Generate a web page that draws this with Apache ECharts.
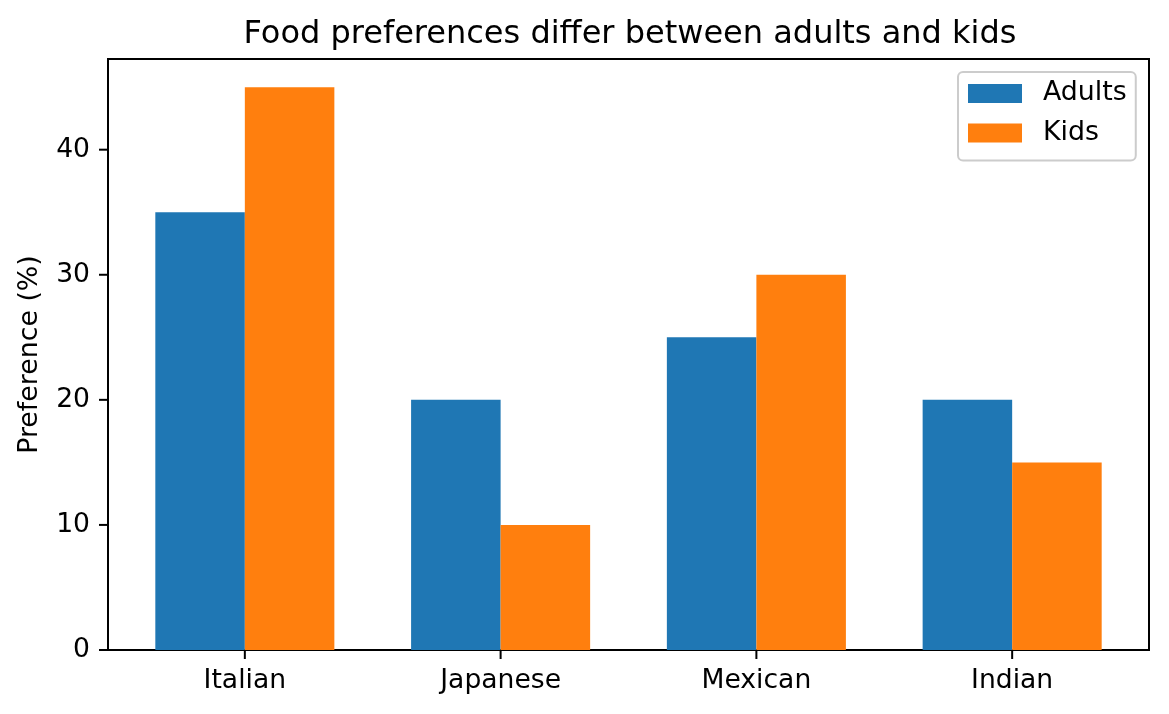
<!DOCTYPE html>
<html>
<head>
<meta charset="utf-8">
<script src="https://cdn.jsdelivr.net/npm/echarts@6/dist/echarts.min.js"></script>
<style>html,body{margin:0;padding:0;background:#fff}#c{width:1169px;height:714px}</style>
</head>
<body>
<div id="c"></div>
<script>
const categories = ['Italian', 'Japanese', 'Mexican', 'Indian'];
const adults = [35, 20, 25, 20];
const kids = [45, 10, 30, 15];
const yTicks = [0, 10, 20, 30, 40];
const seriesNames = ['Adults', 'Kids'];

const barW = 0.35;
const n = categories.length;
const span = (n - 1) + 2 * barW;
// x scale starts at 0 on the left edge; category i is centred at i + xOff
const xOff = barW + 0.05 * span;
const xMax = (n - 1) + barW + 0.05 * span + xOff;
const yMax = 45 * 1.05;
const FONT = 'DejaVu Sans';
const catPos = categories.map((c, i) => i + xOff);
const TICK_LEN = 9;

function makeRender(offset) {
  return function (params, api) {
    const x = api.value(0) + offset;
    const p1 = api.coord([x - barW / 2, api.value(1)]);
    const p2 = api.coord([x + barW / 2, 0]);
    return {
      type: 'rect',
      shape: { x: p1[0], y: p1[1], width: p2[0] - p1[0], height: p2[1] - p1[1] },
      style: { fill: api.visual('color') }
    };
  };
}

// tick marks drawn through the axes' own scales
function xTickRender(params, api) {
  const p = api.coord([api.value(0), 0]);
  return { type: 'line', shape: { x1: p[0], y1: p[1], x2: p[0], y2: p[1] + TICK_LEN }, style: { stroke: '#000', lineWidth: 2 } };
}
function yTickRender(params, api) {
  const p = api.coord([0, api.value(1)]);
  return { type: 'line', shape: { x1: p[0] - TICK_LEN, y1: p[1], x2: p[0], y2: p[1] }, style: { stroke: '#000', lineWidth: 2 } };
}

const chart = echarts.init(document.getElementById('c'), null, { renderer: 'canvas' });
chart.setOption({
  animation: false,
  backgroundColor: '#fff',
  title: {
    text: 'Food preferences differ between adults and kids',
    left: 625, top: 14, textAlign: 'center',
    textStyle: { fontFamily: FONT, fontSize: 32, fontWeight: 'normal', color: '#000' }
  },
  legend: {
    data: [{ name: 'Adults', icon: 'rect' }, { name: 'Kids', icon: 'rect' }],
    orient: 'vertical', left: 958, top: 72,
    itemWidth: 54, itemHeight: 19, itemGap: 12.5,
    padding: [8, 9, 14, 10],
    borderColor: '#cccccc', borderWidth: 2, borderRadius: 5,
    backgroundColor: '#fff',
    textStyle: { fontFamily: FONT, fontSize: 26.8, color: '#000', lineHeight: 20, padding: [0, 0, 0, 16] }
  },
  grid: { left: 108, right: 20, top: 59, bottom: 64, show: true, borderColor: '#000', borderWidth: 2, backgroundColor: 'transparent' },
  xAxis: {
    type: 'value', min: 0, max: xMax,
    splitLine: { show: false },
    axisLine: { show: false },
    axisTick: { show: false },
    axisLabel: {
      customValues: catPos, margin: 18,
      formatter: v => categories[Math.round(v - xOff)],
      fontFamily: FONT, fontSize: 26.6, color: '#000'
    }
  },
  yAxis: {
    type: 'value', min: 0, max: yMax,
    name: 'Preference (%)', nameLocation: 'middle', nameGap: 64,
    nameTextStyle: { fontFamily: FONT, fontSize: 26.8, color: '#000' },
    splitLine: { show: false },
    axisLine: { show: false },
    axisTick: { show: false },
    axisLabel: { customValues: yTicks, margin: 18, fontFamily: FONT, fontSize: 26.6, color: '#000' }
  },
  series: [
    {
      name: seriesNames[0], type: 'custom', itemStyle: { color: '#1f77b4' },
      renderItem: makeRender(-barW / 2),
      encode: { x: 0, y: 1 },
      data: adults.map((v, i) => [catPos[i], v])
    },
    {
      name: seriesNames[1], type: 'custom', itemStyle: { color: '#ff7f0e' },
      renderItem: makeRender(barW / 2),
      encode: { x: 0, y: 1 },
      data: kids.map((v, i) => [catPos[i], v])
    },
    {
      name: 'xTicks', type: 'custom', silent: true, clip: false, z: 5,
      renderItem: xTickRender,
      encode: { x: 0, y: 1 },
      data: catPos.map(p => [p, 0])
    },
    {
      name: 'yTicks', type: 'custom', silent: true, clip: false, z: 5,
      renderItem: yTickRender,
      encode: { x: 0, y: 1 },
      data: yTicks.map(t => [0, t])
    }
  ]
});
</script>
</body>
</html>
